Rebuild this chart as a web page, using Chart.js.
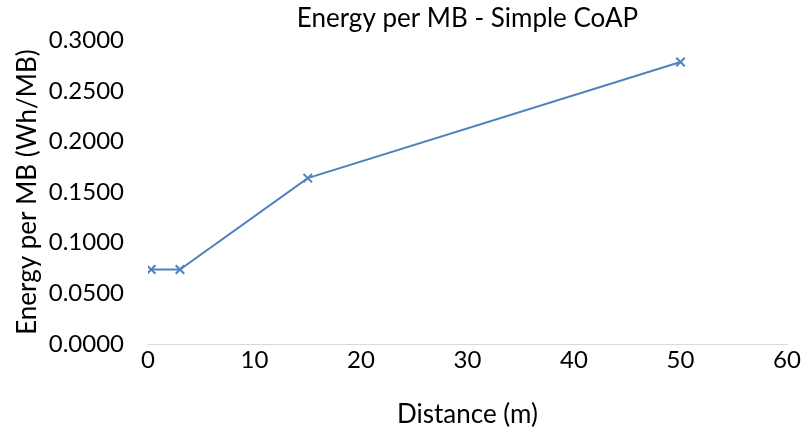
<!DOCTYPE html>
<html>
<head>
<meta charset="utf-8">
<script src="https://cdn.jsdelivr.net/npm/chart.js@4"></script>
<style>
  html, body { margin: 0; padding: 0; background: #fff; }
  #wrap { width: 806px; height: 434px; }
</style>
</head>
<body>
<div id="wrap"><canvas id="chart" width="806" height="434"></canvas></div>
<script>
const distances = [0.3, 3, 15, 50];
const energyPerMB = [0.0735, 0.0735, 0.1638, 0.2785];

const points = distances.map((d, i) => ({ x: d, y: energyPerMB[i] }));
const font = "Lato, 'Open Sans', sans-serif";

const ctx = document.getElementById("chart").getContext("2d");
new Chart(ctx, {
  type: "scatter",
  data: {
    datasets: [
      {
        label: "Energy per MB",
        data: points,
        showLine: true,
        borderColor: "#4f81bd",
        backgroundColor: "#4f81bd",
        borderWidth: 2,
        pointStyle: "crossRot",
        pointRadius: 6,
        pointBorderWidth: 2,
        tension: 0,
      },
    ],
  },
  options: {
    responsive: false,
    animation: false,
    layout: { padding: { left: 0, right: 19, top: 0, bottom: 0 } },
    plugins: {
      legend: { display: false },
      tooltip: { enabled: false },
      title: {
        display: true,
        text: "Energy per MB - Simple CoAP",
        fullSize: false,
        color: "#000",
        font: { family: font, size: 26, weight: "normal" },
        padding: { top: 3, bottom: 6 },
      },
    },
    scales: {
      x: {
        type: "linear",
        min: 0,
        max: 60,
        ticks: {
          stepSize: 10,
          color: "#000",
          font: { family: font, size: 24 },
          padding: 2,
        },
        grid: { display: false, drawTicks: false },
        border: { display: true, color: "#d9d9d9", width: 1 },
        title: {
          display: true,
          text: "Distance (m)",
          color: "#000",
          font: { family: font, size: 26 },
          padding: { top: 8 },
        },
        afterFit: (s) => { s.height = 90; },
      },
      y: {
        min: 0,
        max: 0.3,
        ticks: {
          stepSize: 0.05,
          color: "#000",
          font: { family: font, size: 24 },
          padding: 24,
          callback: (v) => Number(v).toFixed(4),
        },
        grid: { display: false, drawTicks: false },
        border: { display: false },
        title: {
          display: true,
          text: "Energy per MB (Wh/MB)",
          color: "#000",
          font: { family: font, size: 26 },
          padding: { top: 12, bottom: 0 },
        },
        afterFit: (s) => { s.width = 148; },
      },
    },
  },
});
</script>
</body>
</html>
